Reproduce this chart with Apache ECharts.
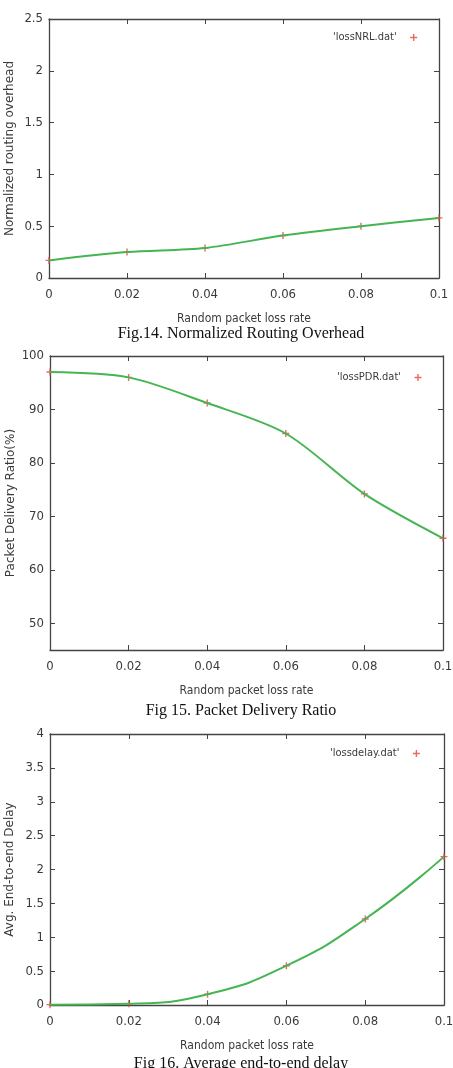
<!DOCTYPE html>
<html>
<head>
<meta charset="utf-8">
<script src="https://cdn.jsdelivr.net/npm/echarts@6/dist/echarts.min.js"></script>
<style>
  html, body { margin: 0; padding: 0; background: #fff; }
  #chart { width: 453px; height: 1068px; }
</style>
</head>
<body>
<div id="chart"></div>
<script>
const lossRates = [0, 0.02, 0.04, 0.06, 0.08, 0.1];
const nrlValues = [0.17, 0.25, 0.29, 0.41, 0.50, 0.58];
const pdrValues = [97.0, 96.0, 91.2, 85.5, 74.2, 65.9];
const delayValues = [0.005, 0.02, 0.16, 0.58, 1.27, 2.19];

const seriesNames = ["'lossNRL.dat'", "'lossPDR.dat'", "'lossdelay.dat'"];
const yNames = ["Normalized routing overhead", "Packet Delivery Ratio(%)", "Avg. End-to-end Delay"];
const xName = "Random packet loss rate";
const captions = ["Fig.14. Normalized Routing Overhead", "Fig 15. Packet Delivery Ratio", "Fig 16. Average end-to-end delay"];

const narrow = "'Liberation Sans Narrow', 'DejaVu Sans Condensed', sans-serif";
const textGray = "#3a3a3a";
const axisGray = "#444";
const plus = "path://M4,0h2v4h4v2h-4v4h-2v-4h-4v-2h4z";

const panels = [
  { values: nrlValues, grid: { left: 49, top: 19, width: 390, height: 259 }, y: { min: 0, max: 2.5, interval: 0.5 }, yGap: 33, smooth: 0.3, legendTop: 27, legendLeft: 328 },
  { values: pdrValues, grid: { left: 50, top: 356, width: 393, height: 294 }, y: { min: 45, max: 100 }, yGap: 33, smooth: 0.3, legendTop: 367, legendLeft: 332 },
  { values: delayValues, grid: { left: 50, top: 734, width: 394, height: 271 }, y: { min: 0, max: 4, interval: 0.5 }, yGap: 34, smooth: 0.5, legendTop: 743, legendLeft: 325 }
];

function tickAxis(extra) {
  return Object.assign({
    axisLine: { show: true, onZero: false, lineStyle: { color: axisGray, width: 1.3 } },
    axisTick: { show: true, inside: true, length: 5, lineStyle: { color: axisGray, width: 1 } },
    splitLine: { show: false }
  }, extra);
}

const grids = [];
const xAxes = [];
const yAxes = [];
const series = [];
const legends = [];
const graphics = [];

panels.forEach((p, i) => {
  grids.push(Object.assign({ containLabel: false, outerBoundsMode: "none" }, p.grid));
  const xRange = { type: "value", min: 0, max: 0.1, interval: 0.02, gridIndex: i };
  xAxes.push(tickAxis(Object.assign({}, xRange, {
    position: "bottom",
    name: xName,
    nameLocation: "middle",
    nameGap: 35,
    nameMoveOverlap: false,
    nameTextStyle: { fontFamily: narrow, fontSize: 12, color: textGray },
    axisLabel: { fontFamily: narrow, fontSize: 13, color: textGray, margin: 10 }
  })));
  xAxes.push(tickAxis(Object.assign({}, xRange, { position: "top", axisLabel: { show: false } })));
  const yRange = Object.assign({ type: "value", gridIndex: i }, p.y);
  yAxes.push(tickAxis(Object.assign({}, yRange, {
    position: "left",
    name: yNames[i],
    nameLocation: "middle",
    nameGap: p.yGap,
    nameMoveOverlap: false,
    nameTextStyle: { fontFamily: "'DejaVu Sans', sans-serif", fontSize: 12, color: textGray },
    axisLabel: { fontFamily: narrow, fontSize: 13, color: textGray, margin: 6, showMinLabel: i !== 1 }
  })));
  yAxes.push(tickAxis(Object.assign({}, yRange, { position: "right", axisLabel: { show: false } })));

  const points = lossRates.map((x, k) => [x, p.values[k]]);
  series.push({
    name: seriesNames[i],
    type: "scatter",
    xAxisIndex: i * 2,
    yAxisIndex: i * 2,
    symbol: plus,
    symbolSize: 7,
    itemStyle: { color: "#e2453c" },
    z: 2,
    data: points
  });
  series.push({
    type: "line",
    xAxisIndex: i * 2,
    yAxisIndex: i * 2,
    smooth: p.smooth,
    showSymbol: false,
    lineStyle: { color: "#45b553", width: 2 },
    z: 3,
    data: points
  });
  legends.push({
    data: [seriesNames[i]],
    left: p.legendLeft,
    top: p.legendTop,
    align: "right",
    itemWidth: 24,
    itemHeight: 7,
    textStyle: { fontFamily: narrow, fontSize: 11, color: textGray }
  });
});

const captionYs = [334, 711, 1064];
captions.forEach((text, i) => {
  graphics.push({
    type: "text",
    x: 241,
    y: captionYs[i],
    style: {
      text,
      fill: "#111",
      font: "16px 'Liberation Serif', 'Times New Roman', serif",
      textAlign: "center",
      textVerticalAlign: "middle"
    }
  });
});

const chart = echarts.init(document.getElementById("chart"), null, { renderer: "canvas" });
chart.setOption({
  animation: false,
  backgroundColor: "#fff",
  grid: grids,
  xAxis: xAxes,
  yAxis: yAxes,
  legend: legends,
  series,
  graphic: graphics
});
</script>
</body>
</html>
